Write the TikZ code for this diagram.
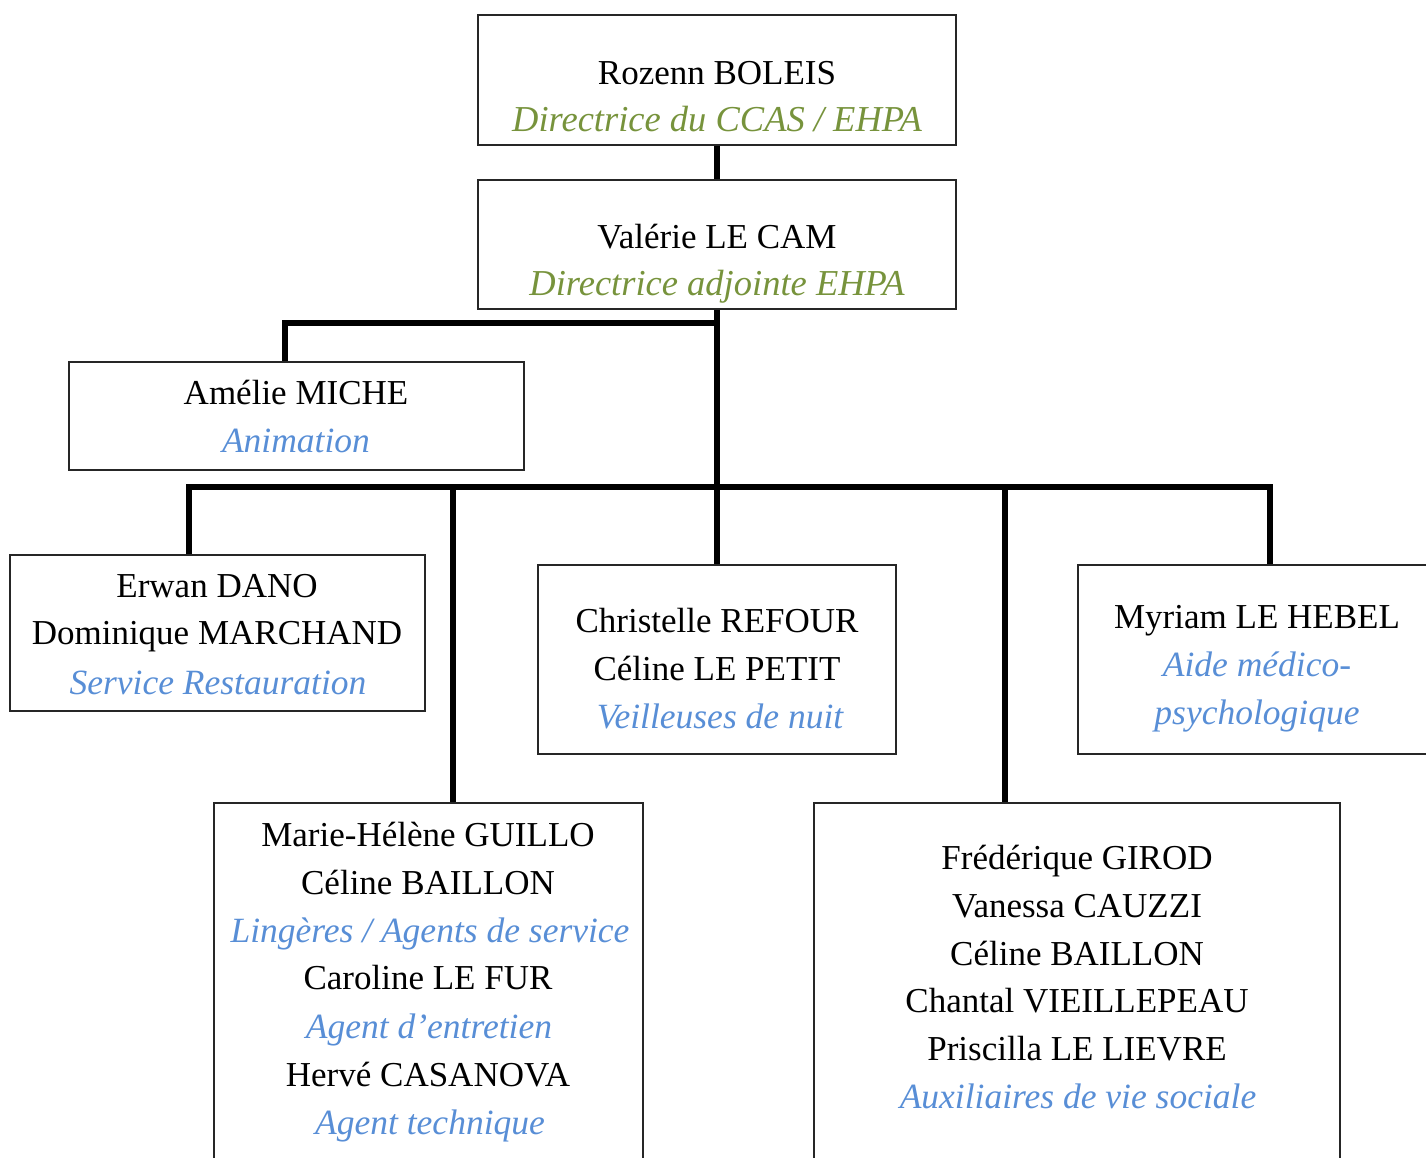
\documentclass[tikz,border=0pt]{standalone}
\usepackage{fontspec}
\setmainfont{Liberation Serif}
\definecolor{olive}{RGB}{119,147,60}
\definecolor{sky}{RGB}{88,142,214}
\begin{document}
\begin{tikzpicture}[x=1pt,y=-1pt,
  box/.style={draw=black!85, line width=1.8pt, inner sep=0pt, fill=none},
  conn/.style={line width=5.4pt, black, line join=miter},
  nm/.style={font=\fontsize{35}{42}\selectfont, inner sep=0pt, text height=23pt, text depth=0pt},
  rl/.style={font=\fontsize{35.5}{42}\selectfont\itshape, inner sep=0pt, text height=23pt, text depth=0pt},
  rg/.style={rl, font=\fontsize{36.5}{42}\selectfont\itshape, text=olive},
  rb/.style={rl, text=sky}]
\useasboundingbox (0,0) rectangle (1426,1157);
\clip (0,0) rectangle (1426,1157);

% boxes
\node[box, minimum width=478pt, minimum height=130pt] (b1) at (717,80) {};
\node[box, minimum width=478pt, minimum height=129pt] (b2) at (717,244.5) {};
\node[box, minimum width=455pt, minimum height=108pt] (b3) at (296.5,416) {};
\node[box, minimum width=415pt, minimum height=156pt] (b4) at (217.5,633) {};
\node[box, minimum width=358pt, minimum height=189pt] (b5) at (717,659.5) {};
\node[box, minimum width=352pt, minimum height=189pt] (b6) at (1254,659.5) {};
\node[box, minimum width=429pt, minimum height=420pt] (b7) at (428.5,1013) {};
\node[box, minimum width=526pt, minimum height=420pt] (b8) at (1077,1013) {};

% connectors
\coordinate (j1) at (717,323);
\coordinate (a1) at (285,323);
\coordinate (bus) at (717,487);
\coordinate (busL) at (189,487);
\coordinate (busR) at (1270,487);
\coordinate (dM) at (453,487);
\coordinate (dF) at (1005,487);
\draw[conn] (b1.south) -- (b2.north);
\draw[conn] (b2.south) -- (bus);
\draw[conn] (j1) -- (a1) -- (a1 |- b3.north);
\draw[conn] (busL |- b4.north) -- (busL) -- (busR) -- (busR |- b6.north);
\draw[conn] (dM) -- (dM |- b7.north);
\draw[conn] (bus) -- (bus |- b5.north);
\draw[conn] (dF) -- (dF |- b8.north);

% texts
\node[nm] (t1a) at (717,73) {Rozenn BOLEIS};
\node[rg] (t1b) at (717,120) {Directrice du CCAS / EHPA};
\node[nm] (t2a) at (717,237) {Valérie LE CAM};
\node[rg] (t2b) at (717,284) {Directrice adjointe EHPA};
\node[nm] (t3a) at (296,393) {Amélie MICHE};
\node[rb] (t3b) at (296,441) {Animation};
\node[nm] (t4a) at (217,586) {Erwan DANO};
\node[nm] (t4b) at (217,633) {Dominique MARCHAND};
\node[rb] (t4c) at (218,683) {Service Restauration};
\node[nm] (t5a) at (717,621) {Christelle REFOUR};
\node[nm] (t5b) at (717,669) {Céline LE PETIT};
\node[rb] (t5c) at (720,717) {Veilleuses de nuit};
\node[nm] (t6a) at (1257,617) {Myriam LE HEBEL};
\node[rb] (t6b) at (1257,665) {Aide médico-};
\node[rb] (t6c) at (1257,713) {psychologique};
\node[nm] (t7a) at (428,835) {Marie-Hélène GUILLO};
\node[nm] (t7b) at (428,883) {Céline BAILLON};
\node[rb] (t7c) at (430,931) {Lingères / Agents de service};
\node[nm] (t7d) at (428,978) {Caroline LE FUR};
\node[rb] (t7e) at (429,1027) {Agent d’entretien};
\node[nm] (t7f) at (428,1075) {Hervé CASANOVA};
\node[rb] (t7g) at (430,1123) {Agent technique};
\node[nm] (t8a) at (1077,858) {Frédérique GIROD};
\node[nm] (t8b) at (1077,906) {Vanessa CAUZZI};
\node[nm] (t8c) at (1077,954) {Céline BAILLON};
\node[nm] (t8d) at (1077,1001) {Chantal VIEILLEPEAU};
\node[nm] (t8e) at (1077,1049) {Priscilla LE LIEVRE};
\node[rb] (t8f) at (1078,1097) {Auxiliaires de vie sociale};
\end{tikzpicture}
\end{document}
